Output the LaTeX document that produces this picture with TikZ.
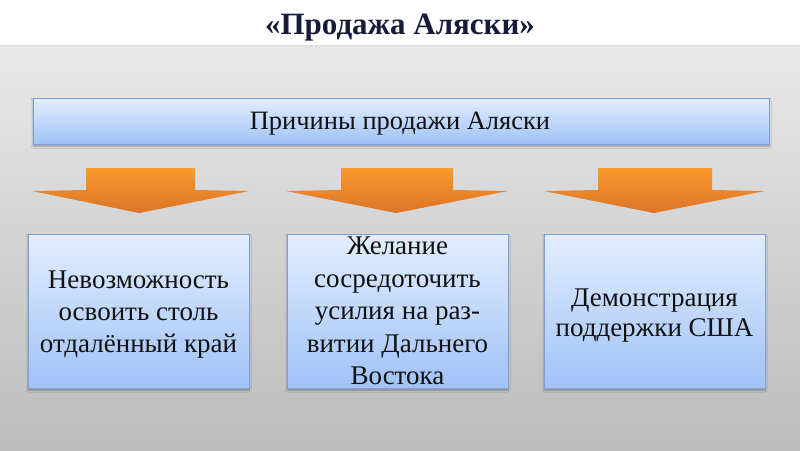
\documentclass[tikz,border=0pt]{standalone}
\usepackage{fontspec}
\setmainfont{Liberation Serif}
\usetikzlibrary{shadows.blur}
\definecolor{titlec}{HTML}{161B3A}
\definecolor{boxtop}{HTML}{E3EEFE}
\definecolor{boxbot}{HTML}{A0C2F7}
\definecolor{boxdraw}{HTML}{7F9FD3}
\definecolor{arrtop}{HTML}{FB9A2E}
\definecolor{arrbot}{HTML}{DC7428}
\definecolor{bgtop}{HTML}{E9E9E9}
\definecolor{bgbot}{HTML}{BCBCBC}
\definecolor{textc}{HTML}{111111}
\begin{document}
\begin{tikzpicture}[x=1pt,y=-1pt,
 boxstyle/.style={draw=boxdraw, line width=0.8pt, top color=boxtop, bottom color=boxbot,
   blur shadow={shadow xshift=0pt, shadow yshift=-2pt, shadow blur radius=2pt, shadow opacity=35},
   inner sep=0pt},
 boxtext/.style={align=center, text=textc, inner sep=0pt},
 arrowshape/.style={top color=arrtop, bottom color=arrbot}]
\useasboundingbox (0,0) rectangle (800,450);
\shade[top color=bgtop, bottom color=bgbot] (0,45) rectangle (800,450);
\shade[top color=black!12, bottom color=bgtop] (0,45) rectangle (800,49);
\fill[white] (0,0) rectangle (800,45);

\node[text=titlec, font=\bfseries\fontsize{31}{36}\selectfont, inner sep=0pt, anchor=base] (title) at (400,34) {«Продажа Аляски»};

\node[boxstyle, minimum width=736pt, minimum height=46pt] (banner) at (401,121) {};
\node[boxtext, font=\fontsize{26.5}{30}\selectfont, anchor=base] (bannertext) at (400,129) {Причины продажи Аляски};

\shade[arrowshape] (86,168) -- (195,168) -- (195,190) -- (249,191) -- (139,213) -- (32,191) -- (86,190) -- cycle;
\shade[arrowshape] (341,168) -- (453,168) -- (453,190) -- (508,191) -- (396,213) -- (286,191) -- (341,190) -- cycle;
\shade[arrowshape] (598,168) -- (712,168) -- (712,190) -- (765,191) -- (654,213) -- (544,191) -- (598,190) -- cycle;

\node[boxstyle, minimum width=221pt, minimum height=154pt] (b1) at (138.5,311) {};
\node[boxstyle, minimum width=221pt, minimum height=154pt] (b2) at (397.5,311) {};
\node[boxstyle, minimum width=221pt, minimum height=154pt] (b3) at (654.5,311) {};

\node[boxtext, font=\fontsize{27}{32}\selectfont] (t1) at (138.5,315) {Невозможность\\освоить столь\\отдалённый край};
\node[boxtext, font=\fontsize{27}{32.5}\selectfont] (t2) at (397.5,311) {Желание\\сосредоточить\\усилия на раз-\\витии Дальнего\\Востока};
\node[boxtext, font=\fontsize{27}{30}\selectfont] (t3) at (654.5,316) {Демонстрация\\поддержки США};
\end{tikzpicture}
\end{document}
